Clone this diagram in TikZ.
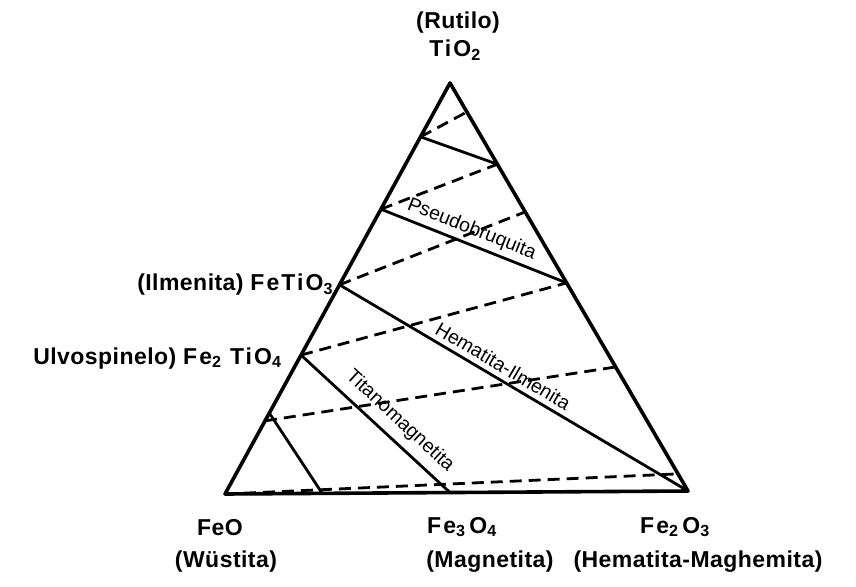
\documentclass[tikz,border=0pt]{standalone}
\usepackage{fontspec}
\setmainfont{Liberation Sans}[LetterSpace=2]
\newfontfamily\tiefont{Liberation Sans}
\usetikzlibrary{calc, positioning}

\newcommand{\chsub}[1]{\textsubscript{#1}}
\newcommand{\chem}[1]{{\addfontfeatures{LetterSpace=9}#1}}

\begin{document}
\begin{tikzpicture}[
    x=1pt, y=-1pt,
    every node/.style={font=\bfseries\fontsize{23}{26}\selectfont},
    side/.style={line width=3.6pt, line join=round, line cap=round},
    tie/.style={line width=2.8pt},
    dashtie/.style={line width=2.8pt, dash pattern=on 12pt off 7pt},
    tielabel/.style={font=\tiefont\fontsize{19.5}{21}\selectfont, sloped, inner sep=1pt}
]
\useasboundingbox (0,0) rectangle (856,586);

% Corners
\coordinate (rutilo) at (450,83);
\coordinate (wustita) at (225,494);
\coordinate (hematita) at (688,491);

% Points on the sides
\coordinate (l1) at ($(rutilo)!0.131!(wustita)$);
\coordinate (l2) at ($(rutilo)!0.307!(wustita)$);
\coordinate (ilmenita) at ($(rutilo)!0.491!(wustita)$);
\coordinate (ulvo) at ($(rutilo)!0.662!(wustita)$);
\coordinate (l5) at ($(rutilo)!0.803!(wustita)$);
\coordinate (l6) at ($(rutilo)!0.822!(wustita)$);
\coordinate (r1) at ($(rutilo)!0.071!(hematita)$);
\coordinate (r2) at ($(rutilo)!0.199!(hematita)$);
\coordinate (r3) at ($(rutilo)!0.316!(hematita)$);
\coordinate (r4) at ($(rutilo)!0.490!(hematita)$);
\coordinate (r5) at ($(rutilo)!0.696!(hematita)$);
\coordinate (r6) at ($(rutilo)!0.958!(hematita)$);
\coordinate (b1) at ($(wustita)!0.210!(hematita)$);
\coordinate (magnetita) at ($(wustita)!0.486!(hematita)$);

% Triangle
\draw[side] (rutilo) -- (wustita) -- (hematita) -- cycle;

% Solid tie lines
\draw[tie] (l1) -- (r2);
\draw[tie] (l2) -- node[tielabel, above=3pt, pos=0.46] {Pseudobruquita} (r4);
\draw[tie] (ilmenita) -- node[tielabel, above=4pt, pos=0.45] {Hematita-Ilmenita} (hematita);
\draw[tie] (ulvo) -- node[tielabel, above=7pt, pos=0.58] {Titanomagnetita} (magnetita);
\draw[tie] (l5) -- (b1);

% Dashed lines
\draw[dashtie] (l1) -- (r1);
\draw[dashtie] (l2) -- (r2);
\draw[dashtie] (ilmenita) -- (r3);
\draw[dashtie] (ulvo) -- (r4);
\draw[dashtie] (l6) -- (r5);
\draw[dashtie] (wustita) -- (r6);

% Labels
\node (rutlabel) at (458,23) {(Rutilo)};
\node (tio2) at (455,50) {\chem{TiO\chsub{2}}};
\node[anchor=east] (ilmlabel) at ($(ilmenita)+(-3,0)$) {(Ilmenita) \chem{FeTiO\chsub{3}}};
\node[anchor=east] (ulvlabel) at ($(ulvo)+(-16,3)$) {Ulvospinelo) \chem{Fe\chsub{2}\ TiO\chsub{4}}};
\node (feo) at (220,528) {FeO};
\node (wuslabel) at (226,562) {(Wüstita)};
\node (fe3o4) at (462,527) {\chem{Fe\chsub{3}\,O\chsub{4}}};
\node (maglabel) at (490,562) {(Magnetita)};
\node (fe2o3) at (675,527) {\chem{Fe\chsub{2}\,O\chsub{3}}};
\node (hemlabel) at (698,562) {(Hematita-Maghemita)};

\end{tikzpicture}
\end{document}
